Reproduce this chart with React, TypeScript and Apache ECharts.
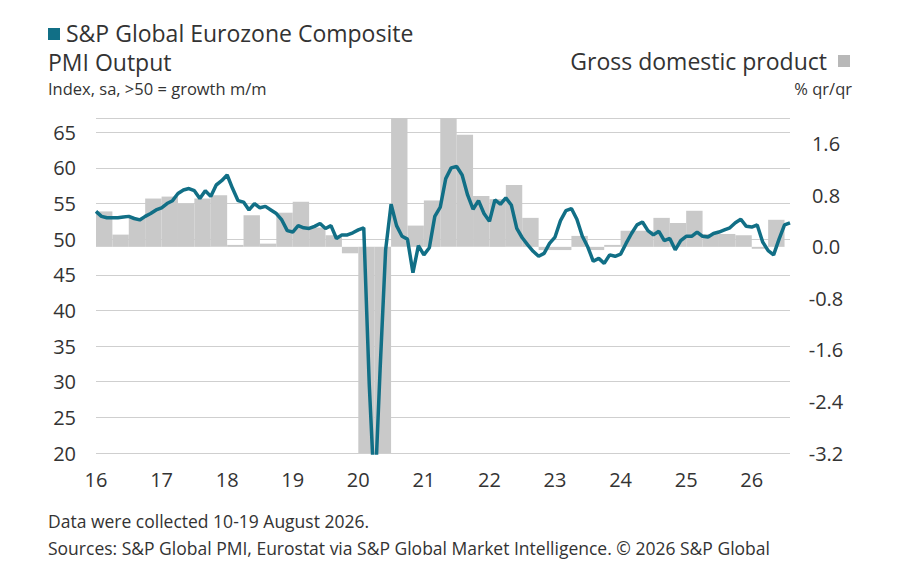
import React, { useEffect, useRef } from 'react';
import * as echarts from 'echarts';

// Monthly PMI, Jan 2016 – Aug 2026
const pmi2016 = [53.9, 53.2, 53.0, 53.0, 53.0, 53.1, 53.2, 52.9, 52.7, 53.2, 53.6, 54.1];
const pmi2017 = [54.4, 55.0, 55.4, 56.4, 56.9, 57.1, 56.8, 55.7, 56.8, 56.0, 57.6, 58.2];
const pmi2018 = [59.0, 57.1, 55.4, 55.2, 54.1, 55.0, 54.4, 54.6, 54.1, 53.6, 52.7, 51.2];
const pmi2019 = [51.0, 51.9, 51.6, 51.5, 51.8, 52.2, 51.5, 51.9, 50.1, 50.6, 50.6, 50.9];
const pmi2020 = [51.3, 51.6, 29.7, 13.6, 31.9, 48.5, 54.9, 51.9, 50.4, 50.0, 45.3, 49.1];
const pmi2021 = [47.8, 48.8, 53.2, 54.5, 58.5, 60.0, 60.2, 59.0, 56.2, 54.2, 55.4, 53.6];
const pmi2022 = [52.5, 55.5, 54.9, 55.8, 54.8, 51.5, 50.2, 49.2, 48.3, 47.6, 48.0, 49.4];
const pmi2023 = [50.3, 52.6, 54.0, 54.3, 52.8, 50.4, 48.9, 46.9, 47.3, 46.6, 47.8, 47.6];
const pmi2024 = [47.9, 49.4, 50.8, 52.0, 52.4, 51.2, 50.6, 51.1, 49.8, 50.1, 48.5, 49.8];
const pmi2025 = [50.4, 50.4, 51.0, 50.4, 50.3, 50.8, 51.0, 51.3, 51.6, 52.3, 52.8, 51.8];
const pmi2026 = [51.7, 52.0, 49.6, 48.4, 47.8, 50.0, 52.0, 52.3];
const pmiValues = [
  ...pmi2016, ...pmi2017, ...pmi2018, ...pmi2019, ...pmi2020, ...pmi2021,
  ...pmi2022, ...pmi2023, ...pmi2024, ...pmi2025, ...pmi2026,
];

// Quarterly GDP % q/q, Q1 2016 – Q2 2026
const gdpValues = [
  0.55, 0.19, 0.45, 0.75,
  0.78, 0.67, 0.75, 0.8,
  0.03, 0.49, 0.05, 0.53,
  0.7, 0.3, 0.18, -0.1,
  -3.7, -11.5, 12.4, 0.33,
  0.72, 2.1, 1.74, 0.79,
  0.74, 0.96, 0.45, -0.05,
  -0.05, 0.17, -0.05, 0.03,
  0.25, 0.25, 0.45, 0.37,
  0.56, 0.2, 0.2, 0.18,
  -0.03, 0.42,
];

const yearTicks = [2016, 2017, 2018, 2019, 2020, 2021, 2022, 2023, 2024, 2025, 2026];

const TEAL = '#116f86';
const GREY = '#c9c9c9';
const TEXT = '#333';
const FONT = '"Open Sans", Roboto, sans-serif';

// text centred vertically on y
const txt = (x: number, y: number, text: string, size: number, align = 'left') => ({
  type: 'text',
  x,
  y,
  style: { text, fontSize: size, lineHeight: size, fill: TEXT, align, verticalAlign: 'middle', fontFamily: FONT },
});

const App: React.FC = () => {
  const chartRef = useRef<HTMLDivElement>(null);

  useEffect(() => {
    if (!chartRef.current) return;
    const chart = echarts.init(chartRef.current, undefined, { renderer: 'svg' });

    const lineData = pmiValues.map((v, i) => [2016 + i / 12, v]);
    const barData = gdpValues.map((v, i) => [2016 + i / 4 + 0.125, v]);

    const option: any = {
      animation: false,
      textStyle: { fontFamily: FONT },
      grid: { left: 96, right: 110, top: 118, bottom: 114 },
      graphic: [
        { type: 'rect', shape: { x: 48, y: 28, width: 12, height: 12 }, style: { fill: TEAL } },
        txt(66, 33, 'S&P Global Eurozone Composite', 23),
        txt(48, 62, 'PMI Output', 23),
        txt(48, 88, 'Index, sa, >50 = growth m/m', 16.5),
        txt(827, 61, 'Gross domestic product', 23, 'right'),
        { type: 'rect', shape: { x: 838, y: 55, width: 12, height: 12 }, style: { fill: '#b8b8b8' } },
        txt(852, 88, '% qr/qr', 16.5, 'right'),
        txt(48, 521, 'Data were collected 10-19 August 2026.', 17.5),
        txt(48, 548, 'Sources: S&P Global PMI, Eurostat via S&P Global Market Intelligence. © 2026 S&P Global', 17.5),
      ],
      xAxis: {
        type: 'value',
        min: 2016,
        max: 2016 + (pmiValues.length - 1) / 12,
        interval: 1,
        axisLine: { show: false },
        axisTick: { show: false },
        splitLine: { show: false },
        axisLabel: {
          fontSize: 20,
          color: TEXT,
          margin: 16,
          showMaxLabel: false,
          formatter: (v: number) => (yearTicks.includes(Math.round(v)) ? String(Math.round(v)).slice(2) : ''),
        },
      },
      yAxis: [
        {
          type: 'value',
          min: 20,
          max: 67,
          interval: 5,
          axisLine: { show: false },
          axisTick: { show: false },
          axisLabel: { fontSize: 20, color: TEXT, margin: 20, showMaxLabel: false },
          splitLine: { lineStyle: { color: '#cfcfcf', width: 1 } },
        },
        {
          type: 'value',
          min: -3.2,
          max: 2.0,
          interval: 0.8,
          position: 'right',
          axisLine: { show: false },
          axisTick: { show: false },
          splitLine: { show: false },
          axisLabel: {
            fontSize: 20,
            color: TEXT,
            margin: 36,
            align: 'center',
            showMaxLabel: false,
            formatter: (v: number) => v.toFixed(1),
          },
        },
      ],
      series: [
        {
          type: 'bar',
          yAxisIndex: 1,
          data: barData,
          barWidth: 16.4,
          clip: true,
          itemStyle: { color: GREY },
          z: 1,
        },
        {
          type: 'line',
          yAxisIndex: 0,
          data: lineData,
          showSymbol: false,
          clip: true,
          lineStyle: { color: TEAL, width: 3.5 },
          z: 3,
        },
      ],
    };

    chart.setOption(option);
    return () => chart.dispose();
  }, []);

  return (
    <div
      ref={chartRef}
      style={{ position: 'absolute', left: 0, top: 0, width: 900, height: 567, background: '#fff' }}
    />
  );
};

export default App;
